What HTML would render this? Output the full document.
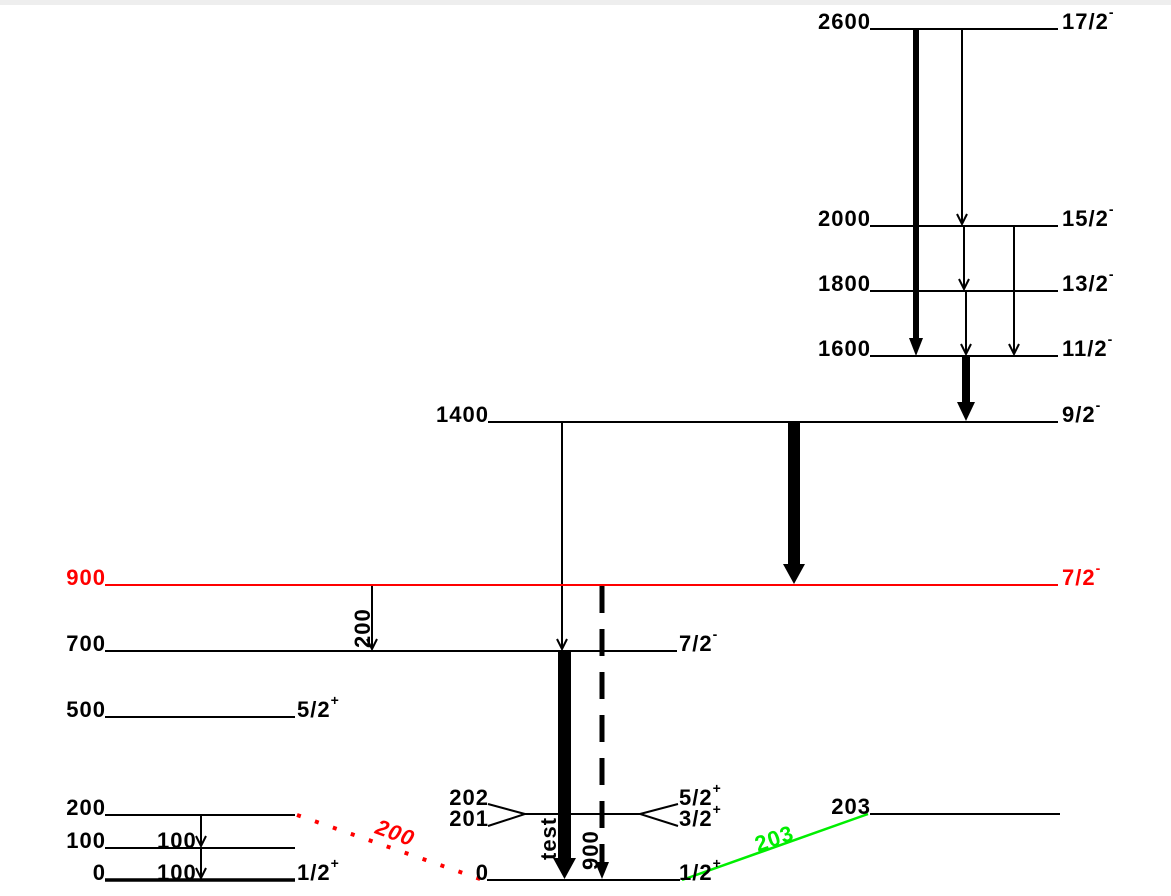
<!DOCTYPE html>
<html><head><meta charset="utf-8"><style>
html,body{margin:0;padding:0;background:#fff;}
svg{display:block;}
text{font-family:"Liberation Sans",Arial,sans-serif;font-weight:bold;font-size:22px;letter-spacing:1px;fill:#000;}
.s{font-size:14px;}
</style></head><body>
<svg width="1171" height="896" viewBox="0 0 1171 896" xmlns="http://www.w3.org/2000/svg">
<rect x="0" y="0" width="1171" height="5" fill="#eeeeee"/>
<g stroke="#000" stroke-width="2" fill="none">
<line x1="870" y1="29" x2="1058" y2="29"/>
<line x1="870" y1="226" x2="1058" y2="226"/>
<line x1="870" y1="291" x2="1058" y2="291"/>
<line x1="870" y1="356" x2="1058" y2="356"/>
<line x1="488" y1="422" x2="1058" y2="422"/>
<line x1="105" y1="651" x2="677" y2="651"/>
<line x1="105" y1="717" x2="295" y2="717"/>
<line x1="105" y1="815" x2="295" y2="815"/>
<line x1="105" y1="848" x2="295" y2="848"/>
<line x1="105" y1="880" x2="295" y2="880" stroke-width="3.5"/>
<line x1="525" y1="814" x2="640" y2="814"/>
<line x1="487" y1="880" x2="680" y2="880"/>
<line x1="870" y1="814" x2="1060" y2="814"/>
<polyline points="488,804 525,814 488,826"/>
<polyline points="678,804 640,814 678,826"/>
<line x1="962" y1="29" x2="962" y2="224"/>
<line x1="964" y1="226" x2="964" y2="289"/>
<line x1="966" y1="291" x2="966" y2="354"/>
<line x1="1014" y1="226" x2="1014" y2="354"/>
<line x1="562" y1="422" x2="562" y2="649"/>
<line x1="372" y1="585" x2="372" y2="649"/>
<line x1="201" y1="815" x2="201" y2="846"/>
<line x1="201" y1="848" x2="201" y2="878"/>
<polyline points="957,214 962,224 967,214"/>
<polyline points="959,279 964,289 969,279"/>
<polyline points="961,344 966,354 971,344"/>
<polyline points="1009,344 1014,354 1019,344"/>
<polyline points="557,639 562,649 567,639"/>
<polyline points="367,639 372,649 377,639"/>
<polyline points="196,836 201,846 206,836"/>
<polyline points="196,868 201,878 206,868"/>
</g>
<line x1="105" y1="585" x2="1058" y2="585" stroke="#ff0000" stroke-width="2"/>
<g fill="#000">
<rect x="913" y="29" width="6" height="310"/><polygon points="909,338 923,338 916,356"/>
<rect x="962" y="356" width="8" height="48"/><polygon points="957,402 975,402 966,421"/>
<rect x="788" y="422" width="12" height="144"/><polygon points="783,564 805,564 794,584"/>
<rect x="558" y="651" width="13" height="210"/><polygon points="553,858 576,858 564.5,879"/>
<polygon points="595,862 609,862 602,879"/>
</g>
<line x1="602" y1="586" x2="602" y2="864" stroke="#000" stroke-width="5" stroke-dasharray="27,16"/>
<line x1="297" y1="815" x2="483" y2="880" stroke="#ff0000" stroke-width="4" stroke-dasharray="4,15"/>
<line x1="682" y1="880" x2="868" y2="814" stroke="#00ee00" stroke-width="2.5"/>
<g text-anchor="end">
<text x="871" y="29">2600</text>
<text x="871" y="226">2000</text>
<text x="871" y="291">1800</text>
<text x="871" y="356">1600</text>
<text x="489" y="422">1400</text>
<text x="106" y="585" style="fill:#ff0000">900</text>
<text x="106" y="651">700</text>
<text x="106" y="717">500</text>
<text x="106" y="815">200</text>
<text x="106" y="848">100</text>
<text x="106" y="880">0</text>
<text x="489" y="805">202</text>
<text x="489" y="826">201</text>
<text x="489" y="880">0</text>
<text x="871" y="814">203</text>
</g>
<text x="1062" y="29">17/2<tspan class="s" dy="-12">-</tspan></text>
<text x="1062" y="226">15/2<tspan class="s" dy="-12">-</tspan></text>
<text x="1062" y="291">13/2<tspan class="s" dy="-12">-</tspan></text>
<text x="1062" y="356">11/2<tspan class="s" dy="-12">-</tspan></text>
<text x="1062" y="422">9/2<tspan class="s" dy="-12">-</tspan></text>
<text x="1062" y="585" style="fill:#ff0000">7/2<tspan class="s" dy="-12" style="fill:#ff0000">-</tspan></text>
<text x="679" y="651">7/2<tspan class="s" dy="-12">-</tspan></text>
<text x="297" y="717">5/2<tspan class="s" dy="-12">+</tspan></text>
<text x="297" y="880">1/2<tspan class="s" dy="-12">+</tspan></text>
<text x="679" y="805">5/2<tspan class="s" dy="-12">+</tspan></text>
<text x="679" y="826">3/2<tspan class="s" dy="-12">+</tspan></text>
<text x="679" y="880">1/2<tspan class="s" dy="-12">+</tspan></text>
<text x="157" y="848">100</text>
<text x="157" y="880">100</text>
<text transform="translate(370,648) rotate(-90)">200</text>
<text transform="translate(556,860) rotate(-90)">test</text>
<text transform="translate(598,870) rotate(-90)">900</text>
<text transform="translate(374,833) rotate(20)" style="fill:#ff0000;font-style:italic">200</text>
<text transform="translate(758,852) rotate(-19)" style="fill:#00ee00">203</text>
</svg>
</body></html>
